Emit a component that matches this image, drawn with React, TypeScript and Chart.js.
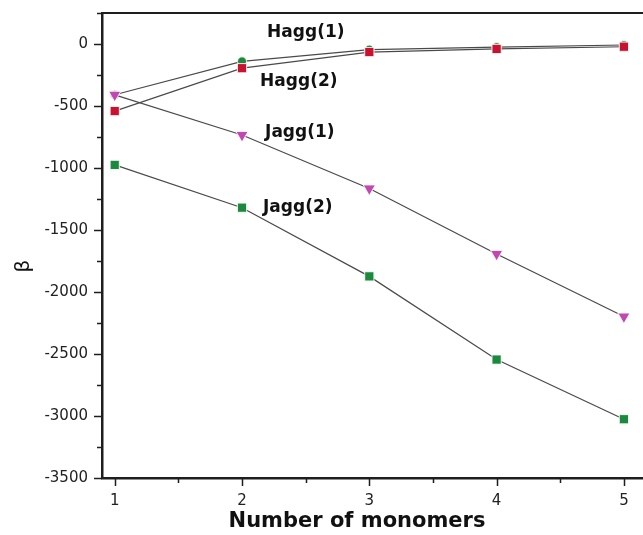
import { useEffect, useRef } from "react";
import { Chart, registerables } from "chart.js";

Chart.register(...registerables);

// ---- data ----
const monomers = [1, 2, 3, 4, 5];
const hagg1 = [-409, -140, -45, -25, -8];
const hagg2 = [-541, -195, -65, -40, -22];
const jagg1 = [-410, -734, -1165, -1693, -2198];
const jagg2 = [-975, -1320, -1874, -2545, -3026];
const xTickValues = [1, 2, 3, 4, 5];
const yTickValues = [-3500, -3000, -2500, -2000, -1500, -1000, -500, 0];
const seriesNames = ["Hagg(1)", "Hagg(2)", "Jagg(1)", "Jagg(2)"];
const xTitle = "Number of monomers";
const yTitle = "β";

// label anchors (data coordinates) for the in-plot series names
const labelX = [2.197, 2.142, 2.181, 2.165];
const labelY = [89, -302, -714, -1323];

const GREEN = "#1b8a3e";
const RED = "#c8122f";
const MAGENTA = "#c446b0";
const LINE = "#4a4a4a";
const AXIS = "#1e1e1e";
const FONT = "'DejaVu Sans', sans-serif";

const decorPlugin = {
  id: "decor",
  afterDraw(chart: any) {
    const { ctx, chartArea, scales } = chart;
    const xs = scales.x;
    const ys = scales.y;
    ctx.save();
    // top frame line
    ctx.strokeStyle = AXIS;
    ctx.lineWidth = 2;
    ctx.beginPath();
    ctx.moveTo(chartArea.left, chartArea.top);
    ctx.lineTo(chartArea.right, chartArea.top);
    ctx.stroke();

    // ticks
    ctx.lineWidth = 1.5;
    ctx.beginPath();
    for (let v = 1; v <= 5.001; v += 0.5) {
      const px = Math.round(xs.getPixelForValue(v)) + 0.5;
      const major = Math.abs(v - Math.round(v)) < 1e-6;
      ctx.moveTo(px, chartArea.bottom);
      ctx.lineTo(px, chartArea.bottom + (major ? 8 : 5));
    }
    for (let v = -3500; v <= 250; v += 250) {
      const py = Math.round(ys.getPixelForValue(v)) + 0.5;
      const major = v % 500 === 0;
      ctx.moveTo(chartArea.left, py);
      ctx.lineTo(chartArea.left - (major ? 8 : 5), py);
    }
    ctx.stroke();

    // series labels
    ctx.fillStyle = "#111";
    ctx.font = `bold 17px ${FONT}`;
    ctx.textAlign = "left";
    ctx.textBaseline = "middle";
    seriesNames.forEach((name, i) => {
      ctx.fillText(name, xs.getPixelForValue(labelX[i]), ys.getPixelForValue(labelY[i]));
    });

    // axis titles
    ctx.font = `bold 21px ${FONT}`;
    ctx.textAlign = "center";
    ctx.textBaseline = "alphabetic";
    ctx.fillText(xTitle, 357, 527);

    ctx.font = `20px ${FONT}`;
    ctx.translate(29, 266);
    ctx.rotate(-Math.PI / 2);
    ctx.textAlign = "center";
    ctx.fillText(yTitle, 0, 0);
    ctx.restore();
  },
};

const zeroPad = (s: any) => {
  s.paddingTop = 0;
  s.paddingBottom = 0;
  s.paddingLeft = 0;
  s.paddingRight = 0;
};

export default function App() {
  const ref = useRef<HTMLCanvasElement | null>(null);

  useEffect(() => {
    if (!ref.current) return;
    const mk = (label: string, data: number[], color: string, style: string, radius: number, rotation: number, order: number) => ({
      label,
      data: monomers.map((m, i) => ({ x: m, y: data[i] })),
      borderColor: LINE,
      borderWidth: 1.2,
      backgroundColor: color,
      pointBackgroundColor: color,
      pointBorderColor: "rgba(255,255,255,0.85)",
      pointBorderWidth: 1,
      pointStyle: style,
      pointRadius: radius,
      pointRotation: rotation,
      order,
      tension: 0,
      clip: false,
    });

    const chart = new Chart(ref.current, {
      type: "line",
      data: {
        datasets: [
          mk(seriesNames[0], hagg1, GREEN, "circle", 4.5, 0, 4),
          mk(seriesNames[1], hagg2, RED, "rect", 6.5, 0, 3),
          mk(seriesNames[2], jagg1, MAGENTA, "triangle", 7, 180, 1),
          mk(seriesNames[3], jagg2, GREEN, "rect", 6.5, 0, 2),
        ] as any,
      },
      options: {
        animation: false,
        responsive: false,
        layout: { autoPadding: false, padding: { top: 13, right: 0, left: 0, bottom: 0 } },
        plugins: { legend: { display: false }, tooltip: { enabled: false }, title: { display: false } },
        scales: {
          x: {
            type: "linear",
            min: 0.9,
            max: 5.15,
            afterBuildTicks: (s: any) => {
              s.ticks = xTickValues.map((v) => ({ value: v }));
            },
            afterFit: (s: any) => {
              s.height = 57;
              zeroPad(s);
            },
            grid: { display: false, drawTicks: false },
            border: { display: true, width: 2.5, color: AXIS },
            ticks: {
              autoSkip: false,
              maxRotation: 0,
              padding: 14,
              color: "#222",
              font: { family: FONT, size: 15 },
              callback: (v: any) => String(v),
            },
          },
          y: {
            type: "linear",
            min: -3500,
            max: 250,
            afterBuildTicks: (s: any) => {
              s.ticks = yTickValues.map((v) => ({ value: v }));
            },
            afterFit: (s: any) => {
              s.width = 102;
              zeroPad(s);
            },
            grid: { display: false, drawTicks: false },
            border: { display: true, width: 2.5, color: AXIS },
            ticks: {
              autoSkip: false,
              padding: 14,
              color: "#222",
              font: { family: FONT, size: 15 },
              callback: (v: any) => String(v),
            },
          },
        },
      },
      plugins: [decorPlugin],
    });
    return () => chart.destroy();
  }, []);

  return (
    <div style={{ position: "absolute", left: 0, top: 0, width: 643, height: 535, background: "#fff" }}>
      <canvas ref={ref} width={643} height={535} style={{ width: 643, height: 535, display: "block" }} />
    </div>
  );
}
